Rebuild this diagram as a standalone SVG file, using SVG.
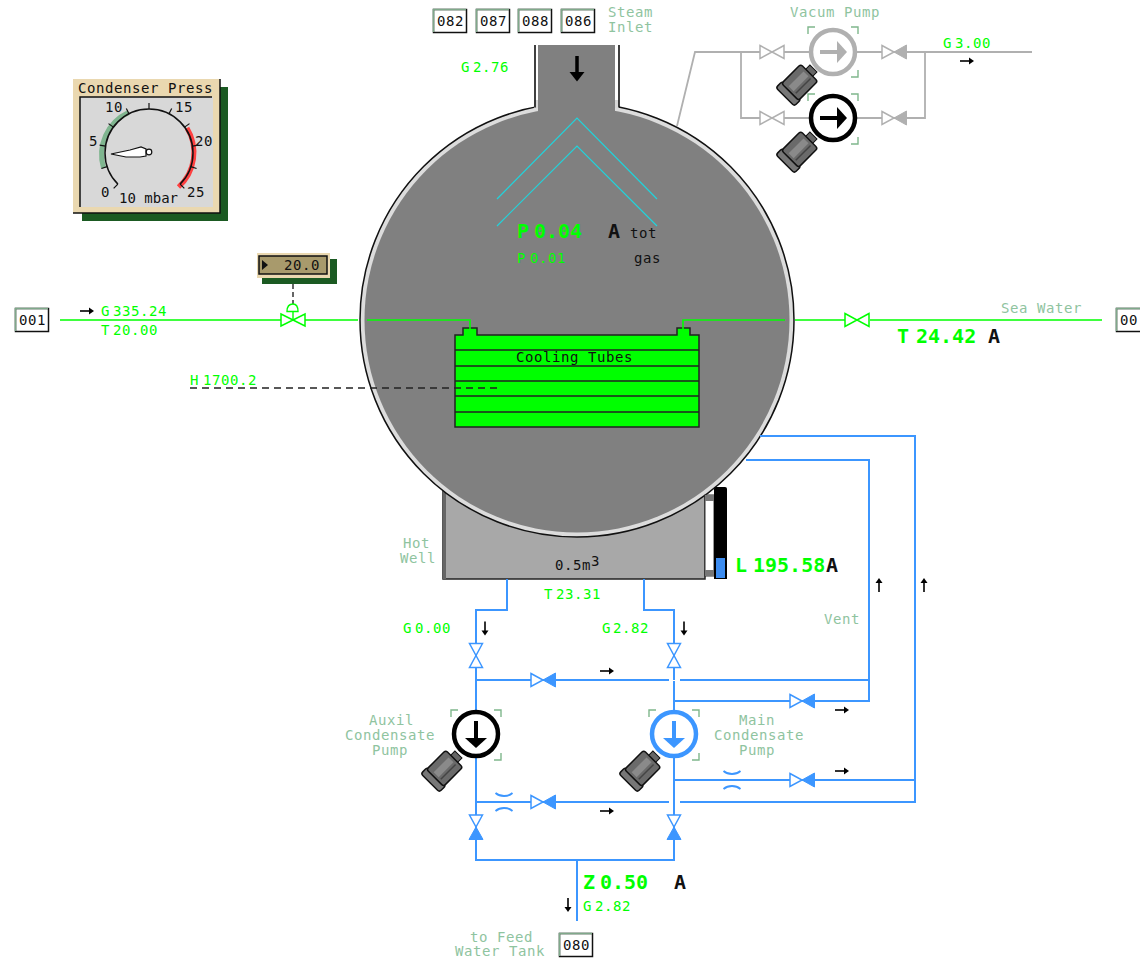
<svg xmlns="http://www.w3.org/2000/svg" xmlns:xlink="http://www.w3.org/1999/xlink" width="1140" height="962" viewBox="0 0 1140 962">
<style>
text{font-family:"DejaVu Sans Mono","Liberation Mono",monospace;font-size:14px;letter-spacing:.58px}
.g{fill:#00ff00}.l{fill:#8fc49f}.k{fill:#111}
.big{font-size:20px;font-weight:bold;letter-spacing:0}
.gr{stroke:#00ff00;stroke-width:1.6;fill:none}
.bl{stroke:#3c96ff;stroke-width:2;fill:none}
.gy{stroke:#b0b0b0;stroke-width:1.8;fill:none}
.tag{fill:#fff;stroke:#111;stroke-width:1.5}
.tagl{fill:none;stroke:#7fa98a;stroke-width:1.5}
</style>
<defs>
<g id="valve"><path d="M-12,-6.5L0,0L-12,6.5ZM12,-6.5L0,0L12,6.5Z" fill="#fff" stroke="currentColor" stroke-width="1.5"/></g>
<g id="check"><path d="M-12,-6.5L0,0L-12,6.5Z" fill="#fff" stroke="currentColor" stroke-width="1.5"/><path d="M12.5,-7L0,0L12.5,7Z" fill="currentColor" stroke="currentColor"/></g>
<g id="pump"><circle r="22" fill="#fff" stroke="currentColor" stroke-width="4.500"/><path d="M-13,0H6" stroke="currentColor" stroke-width="4"/><path d="M4,-11L14,0L4,11Z" fill="currentColor"/></g>
<path id="brk" d="M-25,-18V-25H-18M18,-25H25V-18M25,18V25H18" fill="none" stroke="#7fb78c" stroke-width="1.4"/>
<g id="motor"><rect x="12" y="-5" width="7" height="10" fill="#666" stroke="#111"/><rect x="-21" y="-13" width="9" height="26" rx="2.500" fill="#777" stroke="#111" stroke-width="1.500"/><rect x="-14" y="-12" width="27" height="24" rx="2.500" fill="#6a6a6a" stroke="#111" stroke-width="1.500"/><rect x="-11" y="-5" width="21" height="7" fill="#8a8a8a"/><path d="M-11,5H10" stroke="#444" stroke-width="1.500"/></g>
<g id="ar"><path d="M-7,0H3" stroke="#000" stroke-width="1.6"/><path d="M2,-3.500L7,0L2,3.500Z" fill="#000"/></g>
<g id="orf"><path d="M-8.500,-9Q-5,-6 0,-6Q5,-6 8.500,-9M-8.500,9Q-5,6 0,6Q5,6 8.500,9" stroke="#3c96ff" stroke-width="1.800" fill="none"/></g>
</defs>

<g id="vessel">
<rect x="536" y="45" width="81" height="70" fill="#d8d8d8"/>
<rect x="443" y="489" width="262" height="90" fill="#a8a8a8" stroke="#222" stroke-width="1.500"/>
<rect x="443" y="489" width="3" height="90" fill="#666"/>
<circle cx="577" cy="320" r="217" fill="#dcdcdc" stroke="#111" stroke-width="1.500"/>
<circle cx="577" cy="320" r="212.500" fill="#808080"/>
<rect x="536" y="45" width="2.500" height="63" fill="#fff"/><rect x="615" y="45" width="3" height="63" fill="#fff"/>
<rect x="534" y="100" width="4" height="8" fill="#d8d8d8"/><rect x="615" y="100" width="4" height="8" fill="#d8d8d8"/>
<rect x="538" y="45" width="77" height="90" fill="#808080"/>
<path d="M535,45V107.500M619,45V107.500" stroke="#111" stroke-width="1.600" fill="none"/>
<path d="M577,56V74" stroke="#000" stroke-width="3.500"/><path d="M569.500,72H584.500L577,81.500Z" fill="#000"/>
<path d="M497,199L577,118L657,199M497,226L577,146L657,226" fill="none" stroke="#20d4dc" stroke-width="1.200"/>
</g>

<g id="hotwell-gauge">
<rect x="705" y="495" width="9" height="81" fill="#fff" stroke="#333"/>
<rect x="705" y="495" width="9" height="6" fill="#777"/><rect x="705" y="570" width="9" height="6" fill="#777"/>
<path d="M714,579V489Q714,487 716,487H725Q727,487 727,489V579Z" fill="#000"/>
<rect x="716" y="558" width="9" height="20" fill="#3c8cf0"/>
</g>

<g id="tubes">
<path d="M455,335H463V328H477V335H677V328H690V335H699V427H455Z" fill="#00ff00" stroke="#222" stroke-width="1.500"/>
<path d="M455,350H699M455,366H699M455,381H699M455,396H699M455,412H699" stroke="#222" stroke-width="1.300"/>
</g>

<g id="connectors">
<path class="gr" d="M60,320H281M305,320H358M367,320H470V329M683,329V320H785M795,320H845M870,320H1102"/>
<path d="M293,284V304" stroke="#333" stroke-width="1.500" stroke-dasharray="5 3" fill="none"/>
<path d="M190,388H502" stroke="#222" stroke-width="1.500" stroke-dasharray="7 5" fill="none"/>
<path class="gy" d="M677,126L695,52H812M855,52H1032M741,52V118H812M855,118H925V52"/>
<path class="bl" d="M507,579V610H476V860H674V681M674,680V610H644V579M476,680H669M680,680H869M674,701H869V460H746M476,802H669M680,802H915V436H760M674,780H915M577,860V921"/>
</g>

<g id="gauge-panel">
<rect x="82" y="87" width="146" height="134" fill="#1b5a22"/>
<rect x="73" y="79" width="147" height="134" fill="#ead8b0"/>
<path d="M220,79V213H73" fill="none" stroke="#111" stroke-width="1.500"/>
<rect x="80" y="97" width="133" height="110" fill="#d8d8d8"/>
<path d="M80,207V97H212" fill="none" stroke="#111" stroke-width="1.500"/>
<path d="M103.500,168A46.500,46.500 0 0 1 128.500,112.500" fill="none" stroke="#7fb58f" stroke-width="5"/>
<path d="M187,128A46.500,46.500 0 0 1 178.500,187" fill="none" stroke="#ff4040" stroke-width="5"/>
<path d="M117.900,184.100A44,44 0 1 1 180.100,184.100" fill="none" stroke="#111" stroke-width="1.500"/>
<g stroke="#111" stroke-width="1.200">
<path transform="rotate(-135 149 153)" d="M149,109V103"/><path transform="rotate(-108 149 153)" d="M149,109V103"/><path transform="rotate(-81 149 153)" d="M149,109V103"/><path transform="rotate(-54 149 153)" d="M149,109V103"/><path transform="rotate(-27 149 153)" d="M149,109V103"/><path d="M149,109V103"/><path transform="rotate(27 149 153)" d="M149,109V103"/><path transform="rotate(54 149 153)" d="M149,109V103"/><path transform="rotate(81 149 153)" d="M149,109V103"/><path transform="rotate(108 149 153)" d="M149,109V103"/><path transform="rotate(135 149 153)" d="M149,109V103"/>
</g>
<path d="M111,154L130,150L141,147L146,149L146,156L140,157L126,157Z" fill="#fff" stroke="#111" stroke-width="1.200"/>
<circle cx="149" cy="152" r="2.800" fill="#fff" stroke="#111" stroke-width="1.200"/>
<text class="k" x="78" y="93">Condenser Press</text>
<text class="k" x="105" y="112">10</text><text class="k" x="175" y="112">15</text><text class="k" x="89" y="146">5</text><text class="k" x="195" y="146">20</text><text class="k" x="101" y="197">0</text><text class="k" x="187" y="197">25</text>
<text class="k" x="119" y="203" style="letter-spacing:0">10 mbar</text>
</g>

<g id="setpoint">
<rect x="262" y="259" width="75" height="25" fill="#1b5a22"/>
<rect x="257" y="253" width="73" height="25" fill="#ead8b0"/>
<rect x="259" y="256" width="68" height="18" fill="#a89a6c" stroke="#111" stroke-width="1.500"/>
<path d="M262,260L268,265L262,270Z" fill="#111"/>
<text class="k" x="284" y="270">20.0</text>
</g>

<g id="valve-cv">
<path d="M281,314L305,326V314L281,326Z" fill="#fff" stroke="#00ff00" stroke-width="1.500"/>
<path d="M287,311.500Q287,304 293,304Q298,304 298,311.500ZM293,312V320" fill="none" stroke="#00ff00" stroke-width="1.400"/>
</g>
<g id="valve-sea" style="color:#00ff00"><use href="#valve" x="857" y="320"/></g>

<g id="vacuum-pump-1" style="color:#b0b0b0">
<use href="#valve" x="772" y="52"/><use href="#check" x="894" y="52"/>
<use href="#pump" x="833" y="52"/><use href="#brk" x="833" y="52"/>
<use href="#motor" transform="translate(800 82) rotate(-45)"/>
</g>
<g id="vacuum-pump-2">
<g style="color:#b0b0b0"><use href="#valve" x="772" y="118"/><use href="#check" x="894" y="118"/></g>
<g style="color:#000"><use href="#pump" x="833" y="118"/></g><use href="#brk" x="833" y="119"/>
<use href="#motor" transform="translate(800 149) rotate(-45)"/>
</g>

<g id="aux-pump">
<g style="color:#3c96ff"><use href="#valve" transform="translate(476 655.500) rotate(90)"/><use href="#check" x="543" y="680"/><use href="#check" x="543" y="802"/><use href="#check" transform="translate(476 827) rotate(90)"/></g>
<use href="#orf" x="504" y="802"/>
<g style="color:#000"><use href="#pump" transform="translate(476 734) rotate(90)"/></g><use href="#brk" x="476" y="735"/>
<use href="#motor" transform="translate(445 768) rotate(-45)"/>
</g>
<g id="main-pump">
<g style="color:#3c96ff"><use href="#valve" transform="translate(674 655.500) rotate(90)"/><use href="#check" x="802" y="701"/><use href="#check" x="802" y="780"/><use href="#check" transform="translate(674 827) rotate(90)"/>
<use href="#pump" transform="translate(674 734) rotate(90)"/></g><use href="#brk" x="674" y="735"/>
<use href="#orf" x="732" y="780"/>
<use href="#motor" transform="translate(643 768) rotate(-45)"/>
</g>

<g id="flow-arrows">
<use href="#ar" x="87" y="311"/><use href="#ar" x="967" y="61"/><use href="#ar" x="607" y="671"/><use href="#ar" x="607" y="811"/><use href="#ar" x="842" y="710"/><use href="#ar" x="842" y="771"/>
<use href="#ar" transform="translate(485 628.500) rotate(90)"/><use href="#ar" transform="translate(684 628.500) rotate(90)"/><use href="#ar" transform="translate(568 905) rotate(90)"/>
<use href="#ar" transform="translate(879 585) rotate(-90)"/><use href="#ar" transform="translate(924 585) rotate(-90)"/>
</g>

<g id="tag-001"><rect class="tag" x="15.500" y="308.500" width="33" height="23"/><path class="tagl" d="M15.500,331V308.500H48"/><text class="k" x="19" y="325">001</text></g>
<g id="tag-00"><rect class="tag" x="1116.500" y="308.500" width="33" height="23"/><path class="tagl" d="M1116.500,331V308.500H1140"/><text class="k" x="1120" y="325">00</text></g>
<g id="tag-082"><rect class="tag" x="433.500" y="9.500" width="33" height="23"/><path class="tagl" d="M433.500,32V9.500H466"/><text class="k" x="437" y="26">082</text></g>
<g id="tag-087"><rect class="tag" x="476.500" y="9.500" width="33" height="23"/><path class="tagl" d="M476.500,32V9.500H509"/><text class="k" x="480" y="26">087</text></g>
<g id="tag-088"><rect class="tag" x="518.500" y="9.500" width="33" height="23"/><path class="tagl" d="M518.500,32V9.500H551"/><text class="k" x="522" y="26">088</text></g>
<g id="tag-086"><rect class="tag" x="561.500" y="9.500" width="33" height="23"/><path class="tagl" d="M561.500,32V9.500H594"/><text class="k" x="565" y="26">086</text></g>
<g id="tag-080"><rect class="tag" x="559.500" y="933.500" width="33" height="23"/><path class="tagl" d="M559.500,956V933.500H592"/><text class="k" x="563" y="950">080</text></g>

<g id="labels">
<text class="l" x="608" y="17">Steam</text><text class="l" x="608" y="32">Inlet</text>
<text class="l" x="790" y="17">Vacum Pump</text>
<text class="l" x="1001" y="313">Sea Water</text>
<text class="l" x="403" y="548">Hot</text><text class="l" x="400" y="563">Well</text>
<text class="l" x="824" y="624">Vent</text>
<text class="l" x="369" y="725">Auxil</text><text class="l" x="345" y="740">Condensate</text><text class="l" x="372" y="755">Pump</text>
<text class="l" x="739" y="725">Main</text><text class="l" x="714" y="740">Condensate</text><text class="l" x="739" y="755">Pump</text>
<text class="l" x="470" y="942">to Feed</text><text class="l" x="455" y="956">Water Tank</text>
<text class="k" x="516" y="362">Cooling Tubes</text>
<text class="k" x="555" y="570">0.5m<tspan dy="-4">3</tspan></text>
<text class="k" x="630" y="238">tot</text><text class="k" x="634" y="263">gas</text>
<text class="g" x="101" y="316">G</text><text class="g" x="113" y="316">335.24</text>
<text class="g" x="101" y="335">T</text><text class="g" x="113" y="335">20.00</text>
<text class="g" x="190" y="385">H</text><text class="g" x="203" y="385">1700.2</text>
<text class="g" x="461" y="72">G</text><text class="g" x="473" y="72">2.76</text>
<text class="g" x="943" y="48">G</text><text class="g" x="955" y="48">3.00</text>
<text class="g" x="517" y="263">P</text><text class="g" x="530" y="263">0.01</text>
<text class="g" x="544" y="599">T</text><text class="g" x="556" y="599">23.31</text>
<text class="g" x="403" y="633">G</text><text class="g" x="415" y="633">0.00</text>
<text class="g" x="602" y="633">G</text><text class="g" x="613" y="633">2.82</text>
<text class="g" x="583" y="911">G</text><text class="g" x="595" y="911">2.82</text>
<text class="g big" x="517" y="238">P</text><text class="g big" x="534" y="238">0.04</text><text class="k big" x="608" y="238">A</text>
<text class="g big" x="897" y="343">T</text><text class="g big" x="916" y="343">24.42</text><text class="k big" x="988" y="343">A</text>
<text class="g big" x="735" y="572">L</text><text class="g big" x="753" y="572">195.58</text><text class="k big" x="826" y="572">A</text>
<text class="g big" x="583" y="889">Z</text><text class="g big" x="600" y="889">0.50</text><text class="k big" x="674" y="889">A</text>
</g>
</svg>
